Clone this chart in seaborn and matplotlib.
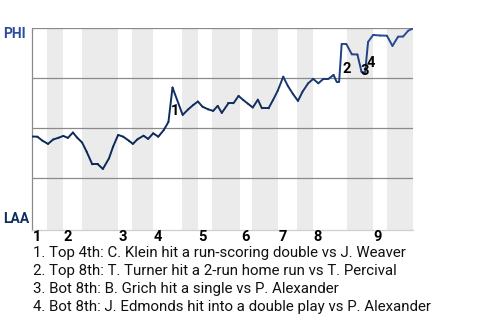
import numpy as np
import pandas as pd
import seaborn as sns
import matplotlib
matplotlib.use("Agg")
import matplotlib.pyplot as plt
import matplotlib.transforms as mtransforms

# ---- data ----
play = [0, 1.0, 2.0, 3.1, 4.1, 5.2, 6.1, 7.0, 8.0, 8.8, 9.8, 10.7, 11.8, 12.9, 13.9,
        15.1, 15.9, 16.9, 17.9, 19.0, 19.8, 20.7, 21.9, 22.8, 23.8, 24.8, 25.9, 26.8,
        27.6, 29.6, 30.7, 31.7, 32.6, 33.5, 34.6, 35.6, 36.5, 37.3, 38.6, 39.6, 40.6,
        41.5, 42.5, 43.4, 44.4, 45.2, 46.5, 47.4, 48.3, 49.4, 50.3, 51.3, 52.3, 53.2,
        54.3, 55.3, 56.3, 57.3, 58.3, 59.3, 59.9, 60.4, 60.9, 61.8, 62.9, 64.0, 64.8,
        65.5, 66.1, 67.1, 68.4, 69.8, 70.9, 72.0, 73.0, 74.0, 75.0]
phi_wp = [45.9, 45.8, 43.8, 42.2, 44.4, 45.3, 46.2, 45.2, 47.9, 45.4, 42.9, 38.3, 32.0,
          32.0, 29.7, 35.0, 40.8, 46.7, 45.8, 43.8, 42.2, 44.5, 46.3, 44.7, 47.5, 45.8,
          49.2, 53.2, 70.4, 56.7, 59.5, 61.7, 63.4, 60.8, 59.5, 58.7, 61.2, 57.7, 62.5,
          62.5, 66.2, 64.2, 62.2, 60.4, 64.3, 60.0, 60.0, 64.2, 68.7, 75.8, 71.2, 67.2,
          63.7, 68.3, 72.5, 74.7, 72.5, 74.7, 74.7, 76.7, 73.3, 73.3, 92.2, 92.2, 87.0,
          86.9, 78.3, 77.7, 93.2, 96.7, 96.4, 96.3, 91.2, 95.8, 95.9, 98.8, 100.0]

innings = ["1", "2", "3", "4", "5", "6", "7", "8", "9"]
top_start = [0, 6.0, 16.8, 23.7, 32.6, 40.9, 48.3, 55.2, 67.0]
bot_start = [2.8, 9.8, 19.7, 29.4, 35.4, 43.2, 52.1, 61.9, 69.8]
game_end = 75.0

event_num = ["1", "2", "3", "4"]
event_x = [28.1, 61.9, 65.5, 66.7]
event_y = [58.7, 79.6, 78.8, 82.5]
event_text = [
    "1. Top 4th: C. Klein hit a run-scoring double vs J. Weaver",
    "2. Top 8th: T. Turner hit a 2-run home run vs T. Percival",
    "3. Bot 8th: B. Grich hit a single vs P. Alexander",
    "4. Bot 8th: J. Edmonds hit into a double play vs P. Alexander",
]
team_top = "PHI"
team_bottom = "LAA"
color_top = "#2b4c9e"
color_bottom = "#0e2d5c"

# segments so the line colour can shift from LAA navy (low) to PHI blue (high)
rows = []
for i in range(len(play) - 1):
    lvl = (phi_wp[i] + phi_wp[i + 1]) / 2
    rows.append({"seg": i, "play": play[i], "wp": phi_wp[i], "level": lvl})
    rows.append({"seg": i, "play": play[i + 1], "wp": phi_wp[i + 1], "level": lvl})
seg_df = pd.DataFrame(rows)

# ---- style ----
sns.set_theme(style="white")
plt.rcParams["font.family"] = ["Roboto", "DejaVu Sans"]

W, H = 480, 320
fig = plt.figure(figsize=(4.8, 3.2), dpi=100)
ax = fig.add_axes([32.3 / W, 1 - 230 / H, (413.3 - 32.3) / W, (230 - 28.3) / H])

ends = top_start[1:] + [game_end]
for b, e in zip(bot_start, ends):
    ax.axvspan(b, e, color="#ebebeb", lw=0, zorder=0)

for g in [25, 50, 75, 100]:
    ax.axhline(g, color="#8a8a8a", lw=0.9, zorder=1)

cmap = sns.blend_palette(["#0a2856", "#0e2d5c", color_top], as_cmap=True)
sns.lineplot(data=seg_df, x="play", y="wp", units="seg", hue="level", estimator=None,
             palette=cmap, hue_norm=(20, 100), legend=False, ax=ax, lw=1.4,
             solid_capstyle="round", zorder=3)

ax.set_xlim(0, game_end)
ax.set_ylim(-0.85, 100)
ax.set_xticks([])
ax.set_yticks([])
ax.set_xlabel("")
ax.set_ylabel("")
for s in ["top", "right"]:
    ax.spines[s].set_visible(False)
ax.spines["left"].set_color("#8a8a8a")
ax.spines["left"].set_linewidth(0.9)
ax.spines["bottom"].set_color("#cfcfcf")
ax.spines["bottom"].set_linewidth(0.9)

trans = mtransforms.blended_transform_factory(ax.transData, ax.transAxes)
for lab, x0 in zip(innings, top_start):
    ax.text(x0 + 0.15, -0.035, lab, transform=trans, ha="left", va="center",
            fontsize=10.5, fontweight="bold", color="black")

for n, x, y in zip(event_num, event_x, event_y):
    ax.text(x, y, n, ha="center", va="center", fontsize=10.5, fontweight="bold",
            color="black", zorder=4)

fig.text(3 / W, 1 - 33.7 / H, team_top, ha="left", va="center", fontsize=10,
         fontweight="bold", color=color_top)
fig.text(3 / W, 1 - 219 / H, team_bottom, ha="left", va="center", fontsize=10,
         fontweight="bold", color=color_bottom)

for i, t in enumerate(event_text):
    fig.text(33 / W, 1 - (253.3 + 18 * i) / H, t, ha="left", va="center",
             fontsize=10.8, color="#111111")

fig.savefig("out.png", dpi=100)
